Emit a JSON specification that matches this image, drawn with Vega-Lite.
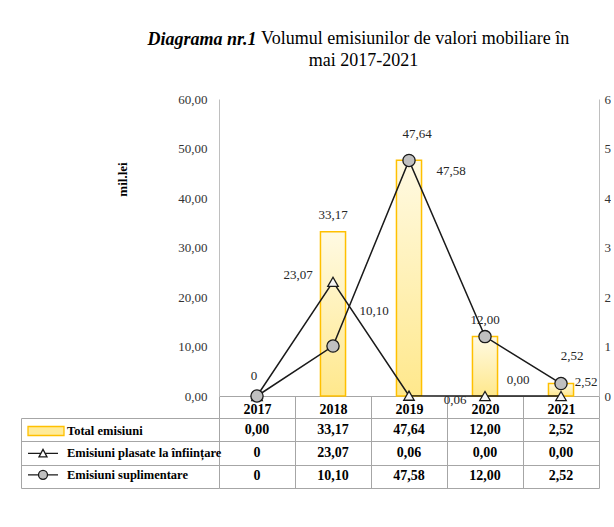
{
  "$schema": "https://vega.github.io/schema/vega-lite/v6.json",
  "padding": {"left": 20, "top": 30, "right": 0, "bottom": 0},
  "bounds": "flush",
  "spacing": 22,
  "datasets": {
    "d": [
      {"year": "2017", "series": "Total emisiuni", "value": 0, "text": "0,00"},
      {"year": "2018", "series": "Total emisiuni", "value": 33.17, "text": "33,17"},
      {"year": "2019", "series": "Total emisiuni", "value": 47.64, "text": "47,64"},
      {"year": "2020", "series": "Total emisiuni", "value": 12.0, "text": "12,00"},
      {"year": "2021", "series": "Total emisiuni", "value": 2.52, "text": "2,52"},
      {"year": "2017", "series": "Emisiuni plasate la înființare", "value": 0, "text": "0"},
      {"year": "2018", "series": "Emisiuni plasate la înființare", "value": 23.07, "text": "23,07"},
      {"year": "2019", "series": "Emisiuni plasate la înființare", "value": 0.06, "text": "0,06"},
      {"year": "2020", "series": "Emisiuni plasate la înființare", "value": 0.0, "text": "0,00"},
      {"year": "2021", "series": "Emisiuni plasate la înființare", "value": 0.0, "text": "0,00"},
      {"year": "2017", "series": "Emisiuni suplimentare", "value": 0, "text": "0"},
      {"year": "2018", "series": "Emisiuni suplimentare", "value": 10.10, "text": "10,10"},
      {"year": "2019", "series": "Emisiuni suplimentare", "value": 47.58, "text": "47,58"},
      {"year": "2020", "series": "Emisiuni suplimentare", "value": 12.0, "text": "12,00"},
      {"year": "2021", "series": "Emisiuni suplimentare", "value": 2.52, "text": "2,52"}
    ]
  },
  "vconcat": [
    {
      "width": 380,
      "height": 297,
      "title": {
        "text": "Volumul emisiunilor de valori mobiliare în",
        "frame": "group",
        "anchor": "start",
        "align": "left",
        "dx": 42,
        "font": "Liberation Serif",
        "fontSize": 18,
        "fontWeight": "normal",
        "color": "black",
        "offset": -18
      },
      "layer": [
        {
          "data": {"name": "d"},
          "encoding": {
            "x": {"field": "year", "type": "ordinal", "scale": {"domain": ["2017", "2018", "2019", "2020", "2021"], "paddingInner": 0, "paddingOuter": 0},
              "axis": {"title": "mai 2017-2021", "titleFont": "Liberation Serif", "titleFontSize": 18, "titleFontWeight": "normal", "titleColor": "black", "titleX": 144, "titleY": -331, "titleAlign": "center", "titleBaseline": "alphabetic", "titleAngle": 0,
                "domain": true, "domainColor": "#a6a6a6", "ticks": true, "tickBand": "extent", "tickSize": 22, "tickColor": "#a6a6a6", "labelFont": "Liberation Serif", "labelFontSize": 14, "labelFontWeight": "bold", "labelColor": "black", "labelBaseline": "middle", "labelPadding": -9, "labelAngle": 0, "grid": false}},
            "y": {"field": "value", "type": "quantitative", "scale": {"domain": [0, 60]},
              "axis": {"orient": "left", "values": [0, 10, 20, 30, 40, 50, 60], "labelExpr": "replace(format(datum.value, '.2f'), '.', ',')", "domain": true, "domainColor": "#bfbfbf", "ticks": false, "grid": false, "labelPadding": 12, "labelFont": "Liberation Serif", "labelFontSize": 13, "labelColor": "#333333", "title": "mil.lei", "titleFont": "Liberation Serif", "titleFontWeight": "bold", "titleFontSize": 13, "titleColor": "black", "titleX": -90, "titleY": 80}}
          },
          "layer": [
            {
              "transform": [{"filter": "datum.series == 'Total emisiuni' && datum.value > 0"}],
              "mark": {"type": "bar", "width": {"band": 0.33}, "stroke": "#FFC000", "strokeWidth": 1.5,
                "fill": {"x1": 0, "y1": 0, "x2": 0, "y2": 1, "gradient": "linear", "stops": [{"offset": 0, "color": "#FFFAE3"}, {"offset": 1, "color": "#FFE88C"}]}}
            },
            {
              "transform": [{"filter": "datum.series != 'Total emisiuni'"}],
              "mark": {"type": "line", "color": "#1a1a1a", "strokeWidth": 1.5},
              "encoding": {"detail": {"field": "series", "type": "nominal"}}
            },
            {
              "transform": [{"filter": "datum.series == 'Emisiuni plasate la înființare'"}],
              "mark": {"type": "point", "shape": "triangle-up", "filled": true, "fill": "#f5f5f5", "stroke": "#1a1a1a", "strokeWidth": 1.3, "size": 110, "opacity": 1}
            },
            {
              "transform": [{"filter": "datum.series == 'Emisiuni suplimentare'"}],
              "mark": {"type": "point", "shape": "circle", "filled": true, "fill": "#c0c0c0", "stroke": "#1a1a1a", "strokeWidth": 1.3, "size": 150, "opacity": 1}
            },
            {
              "transform": [{"filter": "datum.series == 'Total emisiuni' && (datum.year == '2018' || datum.year == '2020')"}],
              "mark": {"type": "text", "font": "Liberation Serif", "fontSize": 13, "color": "#262626", "dy": -17},
              "encoding": {"text": {"field": "text"}}
            },
            {
              "transform": [{"filter": "datum.series == 'Total emisiuni' && datum.year == '2019'"}],
              "mark": {"type": "text", "font": "Liberation Serif", "fontSize": 13, "color": "#262626", "dy": -26, "dx": 8},
              "encoding": {"text": {"field": "text"}}
            },
            {
              "transform": [{"filter": "datum.series == 'Total emisiuni' && datum.year == '2021'"}],
              "mark": {"type": "text", "font": "Liberation Serif", "fontSize": 13, "color": "#262626", "dy": -28, "dx": 11},
              "encoding": {"text": {"field": "text"}}
            },
            {
              "transform": [{"filter": "datum.series == 'Emisiuni plasate la înființare' && datum.year == '2017'"}],
              "mark": {"type": "text", "font": "Liberation Serif", "fontSize": 13, "color": "#262626", "dy": -20, "dx": -3},
              "encoding": {"text": {"field": "text"}}
            },
            {
              "transform": [{"filter": "datum.series == 'Emisiuni plasate la înființare' && datum.year == '2018'"}],
              "mark": {"type": "text", "font": "Liberation Serif", "fontSize": 13, "color": "#262626", "dy": -7, "dx": -35},
              "encoding": {"text": {"field": "text"}}
            },
            {
              "transform": [{"filter": "datum.series == 'Emisiuni plasate la înființare' && datum.year == '2019'"}],
              "mark": {"type": "text", "font": "Liberation Serif", "fontSize": 13, "color": "#262626", "dy": 4, "dx": 46},
              "encoding": {"text": {"field": "text"}}
            },
            {
              "transform": [{"filter": "datum.series == 'Emisiuni plasate la înființare' && datum.year == '2020'"}],
              "mark": {"type": "text", "font": "Liberation Serif", "fontSize": 13, "color": "#262626", "dy": -16, "dx": 33},
              "encoding": {"text": {"field": "text"}}
            },
            {
              "transform": [{"filter": "datum.series == 'Emisiuni suplimentare' && datum.year == '2018'"}],
              "mark": {"type": "text", "font": "Liberation Serif", "fontSize": 13, "color": "#262626", "dy": -35, "dx": 41},
              "encoding": {"text": {"field": "text"}}
            },
            {
              "transform": [{"filter": "datum.series == 'Emisiuni suplimentare' && datum.year == '2019'"}],
              "mark": {"type": "text", "font": "Liberation Serif", "fontSize": 13, "color": "#262626", "dy": 11, "dx": 42},
              "encoding": {"text": {"field": "text"}}
            },
            {
              "transform": [{"filter": "datum.series == 'Emisiuni suplimentare' && datum.year == '2021'"}],
              "mark": {"type": "text", "font": "Liberation Serif", "fontSize": 13, "color": "#262626", "dy": -2, "dx": 25},
              "encoding": {"text": {"field": "text"}}
            }
          ]
        },
        {
          "data": {"values": []},
          "mark": {"type": "point", "filled": true, "opacity": 1, "strokeWidth": 1.3},
          "encoding": {
            "x": {"field": "year", "type": "ordinal"},
            "y": {"field": "value", "type": "quantitative", "scale": {"domain": [0, 60]},
              "axis": {"orient": "right", "values": [0, 10, 20, 30, 40, 50, 60], "labelExpr": "slice(replace(format(datum.value, '.2f'), '.', ','), 0, 1)", "domain": true, "domainColor": "#bfbfbf", "ticks": false, "grid": false, "labelPadding": 5, "labelFont": "Liberation Serif", "labelFontSize": 13, "labelColor": "#333333",
                "title": "Diagrama nr.1", "titleFont": "Liberation Serif", "titleFontSize": 18, "titleFontWeight": "bold", "titleFontStyle": "italic", "titleColor": "black", "titleAngle": 0, "titleAlign": "left", "titleBaseline": "alphabetic", "titleX": -452, "titleY": -55}},
            "shape": {"field": "series", "type": "nominal",
              "scale": {"domain": ["Total emisiuni", "Emisiuni plasate la înființare", "Emisiuni suplimentare"],
                "range": ["M-1.8,-0.45H1.8V0.45H-1.8Z", "M-1.8,0H-0.51M-0.09,0H1.2M-0.7,0.35L-0.3,-0.4L0.1,0.35Z", "M-1.8,0H-0.75M0.15,0H1.2M-0.75,0A0.45,0.45,0,1,0,0.15,0A0.45,0.45,0,1,0,-0.75,0Z"]},
              "legend": {"orient": "none", "legendX": -184, "legendY": 321, "direction": "vertical", "title": null, "symbolSize": 400, "rowPadding": 3.4, "padding": 0, "labelFont": "Liberation Serif", "labelFontSize": 12.5, "labelFontWeight": "bold", "labelColor": "black", "labelOffset": 10, "labelLimit": 0, "symbolStrokeWidth": 1.3}},
            "fill": {"field": "series", "type": "nominal",
              "scale": {"domain": ["Total emisiuni", "Emisiuni plasate la înființare", "Emisiuni suplimentare"], "range": ["#FFEB99", "#ffffff", "#c0c0c0"]}},
            "stroke": {"field": "series", "type": "nominal",
              "scale": {"domain": ["Total emisiuni", "Emisiuni plasate la înființare", "Emisiuni suplimentare"], "range": ["#FFC000", "#1a1a1a", "#1a1a1a"]}}
          }
        }
      ],
      "resolve": {"scale": {"y": "independent"}, "axis": {"y": "independent"}}
    },
    {
      "width": 380,
      "height": 70,
      "data": {"name": "d"},
      "mark": {"type": "text", "font": "Liberation Serif", "fontSize": 14, "fontWeight": "bold", "color": "black"},
      "encoding": {
        "x": {"field": "year", "type": "ordinal", "scale": {"domain": ["2017", "2018", "2019", "2020", "2021"], "paddingInner": 0, "paddingOuter": 0},
          "axis": {"orient": "top", "title": null, "labels": false, "ticks": false, "domain": false, "grid": true, "tickBand": "extent", "gridColor": "#a6a6a6", "gridOpacity": 1}},
        "y": {"field": "series", "type": "nominal", "scale": {"domain": ["Total emisiuni", "Emisiuni plasate la înființare", "Emisiuni suplimentare"], "paddingInner": 0, "paddingOuter": 0},
          "axis": {"orient": "left", "title": null, "offset": 198, "labels": false, "ticks": true, "tickSize": -198, "tickColor": "#a6a6a6", "domain": true, "domainColor": "#a6a6a6", "grid": true, "gridColor": "#a6a6a6", "gridOpacity": 1, "tickBand": "extent"}},
        "text": {"field": "text"}
      }
    }
  ],
  "config": {
    "view": {"stroke": null},
    "font": "Liberation Serif"
  }
}
